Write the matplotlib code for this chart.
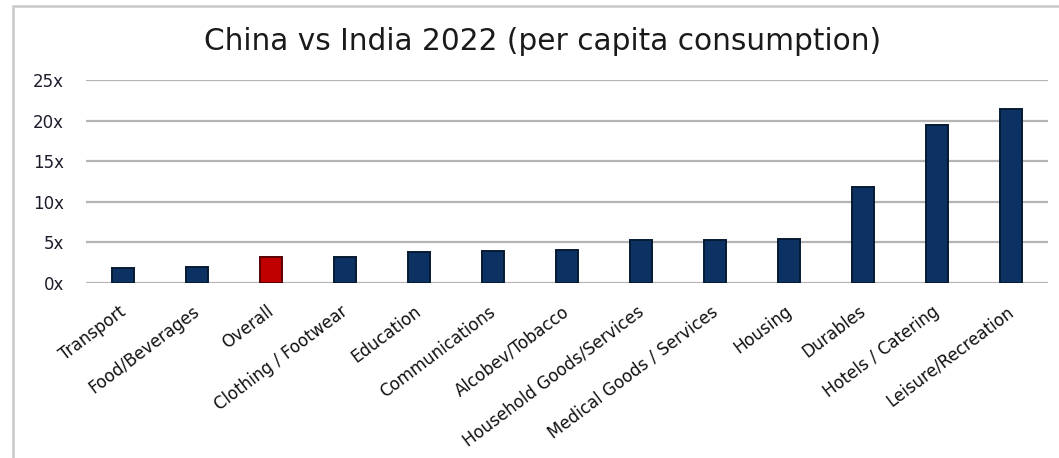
import matplotlib
matplotlib.use("Agg")
import matplotlib.pyplot as plt
from matplotlib.patches import Rectangle
from matplotlib.ticker import FixedLocator
from matplotlib.transforms import ScaledTranslation

plt.rcParams['font.family'] = ['DejaVu Sans']

categories = [
    "Transport", "Food/Beverages", "Overall", "Clothing / Footwear",
    "Education", "Communications", "Alcobev/Tobacco",
    "Household Goods/Services", "Medical Goods / Services", "Housing",
    "Durables", "Hotels / Catering", "Leisure/Recreation",
]
ratios = [1.85, 1.95, 3.2, 3.2, 3.85, 3.95, 4.05, 5.25, 5.35, 5.45, 11.8, 19.45, 21.45]
highlight = "Overall"
y_ticks = [0, 5, 10, 15, 20, 25]
y_tick_labels = ["0x", "5x", "10x", "15x", "20x", "25x"]
title = "China vs India 2022 (per capita consumption)"

W, H = 1059, 458
fig = plt.figure(figsize=(W / 100, H / 100), dpi=100)
fig.patch.set_facecolor("white")

# light frame around the chart area
fig.patches.append(Rectangle((13 / W, -0.1), 1.2, 1 - 6 / H + 0.1,
                             transform=fig.transFigure, fill=False,
                             edgecolor="#c9c9c9", linewidth=1.8))

ax = fig.add_axes([86 / W, 1 - 283 / H, (1048 - 86) / W, (283 - 80) / H])

navy = "#0c3263"
red = "#c00000"
colors = [red if c == highlight else navy for c in categories]
edges = ["#5a0000" if c == highlight else "#061a33" for c in categories]
x = list(range(len(categories)))
ax.bar(x, ratios, width=0.31, color=colors, edgecolor=edges, linewidth=1.4, zorder=3)

ax.set_xlim(-0.5, len(categories) - 0.5)
ax.set_ylim(0, 25)
ax.yaxis.set_major_locator(FixedLocator(y_ticks))
ax.set_yticklabels(y_tick_labels, fontsize=12, color="#1c1c2c")
ax.grid(axis="y", color="#b4b4b4", linewidth=1.6, zorder=0)
ax.set_axisbelow(True)
for s in ax.spines.values():
    s.set_visible(False)
ax.tick_params(axis="y", length=0, pad=16)
ax.tick_params(axis="x", length=0, pad=14)
ax.set_xticks(x)
ax.set_xticklabels(categories, rotation=37, ha="right", rotation_mode="anchor",
                   fontsize=12, color="#111111")
shift = ScaledTranslation(-5 / 100, 0, fig.dpi_scale_trans)
for lbl in ax.get_xticklabels():
    lbl.set_transform(lbl.get_transform() + shift)

fig.text(543 / W, 1 - 42 / H, title, ha="center", va="center",
         fontsize=21.3, color="#1a1a1a")

fig.savefig("out.png", dpi=100, facecolor="white")
